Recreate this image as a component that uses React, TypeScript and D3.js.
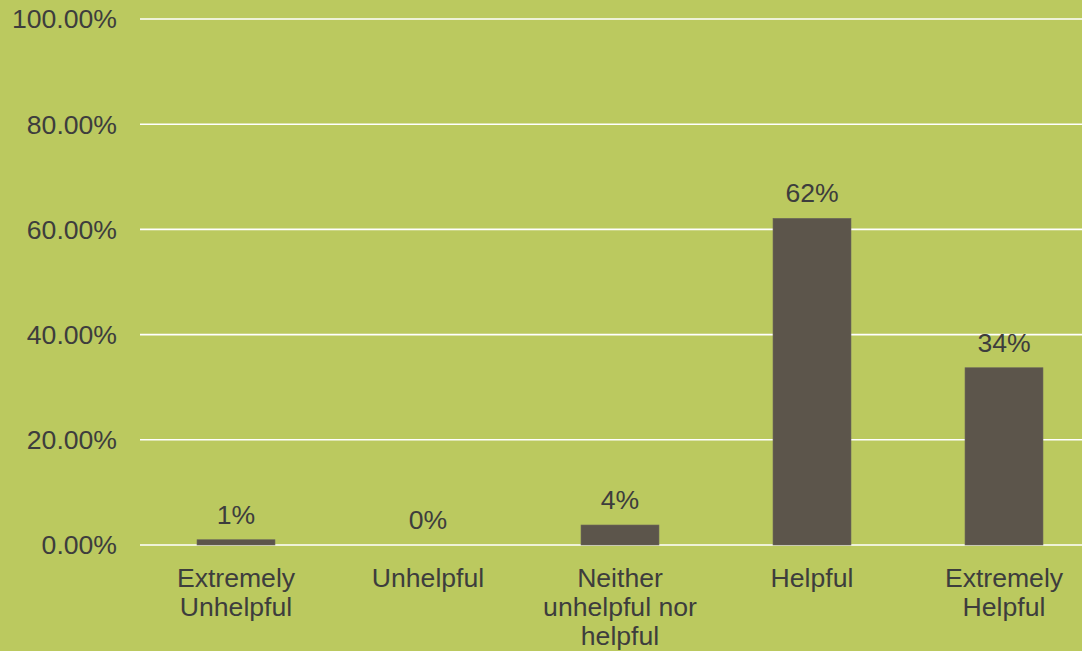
import React from 'react'
import * as d3 from 'd3'

const categories = ['Extremely\nUnhelpful', 'Unhelpful', 'Neither\nunhelpful nor\nhelpful', 'Helpful', 'Extremely\nHelpful']
const values = [0.01, 0, 0.038, 0.621, 0.337]
const valueLabels = ['1%', '0%', '4%', '62%', '34%']
const yTicks = [0, 0.2, 0.4, 0.6, 0.8, 1]

const width = 1082
const height = 651
const bg = '#bbc95f'
const barColor = '#5c554b'
const textColor = '#3d3d3d'
const font = '"Liberation Sans", Arial, sans-serif'
const fs = 26.6

const App = () => {
    // plot area runs past the right edge, like the original crop
    const x = d3.scaleBand<number>()
        .domain(d3.range(categories.length))
        .range([140, 1100])
        .paddingInner(0.594)
        .paddingOuter(0.297)

    const y = d3.scaleLinear()
        .domain([0, 1])
        .range([545, 19])

    const fmt = d3.format('.2%')

    return (
        <svg width={width} height={height}
            style={{ position: 'absolute', left: 0, top: 0, display: 'block' }}
            fontFamily={font}>
            <rect width={width} height={height} fill={bg} />
            {yTicks.map(t => (
                <g key={t}>
                    <line x1={140} x2={width} y1={y(t)} y2={y(t)} stroke='#fff' strokeWidth={1.6} />
                    <text x={117} y={y(t)} dy='0.35em' textAnchor='end' fontSize={fs} fill={textColor}>
                        {fmt(t)}
                    </text>
                </g>
            ))}
            {values.map((v, i) => {
                const bx = x(i)!
                const top = y(v)
                return (
                    <g key={i}>
                        {v > 0 && (
                            <rect x={bx} y={top} width={x.bandwidth()} height={y(0) - top}
                                fill={barColor} stroke='#6b655c' strokeWidth={0.6} />
                        )}
                        <text x={bx + x.bandwidth() / 2} y={top - 16} textAnchor='middle'
                            fontSize={fs} fill={textColor}>
                            {valueLabels[i]}
                        </text>
                    </g>
                )
            })}
            {categories.map((c, i) => (
                <text key={c} x={x(i)! + x.bandwidth() / 2} y={587} textAnchor='middle'
                    fontSize={fs} fill={textColor}>
                    {c.split('\n').map((line, j) => (
                        <tspan key={j} x={x(i)! + x.bandwidth() / 2} dy={j === 0 ? 0 : 29}>{line}</tspan>
                    ))}
                </text>
            ))}
        </svg>
    )
}

export default App
